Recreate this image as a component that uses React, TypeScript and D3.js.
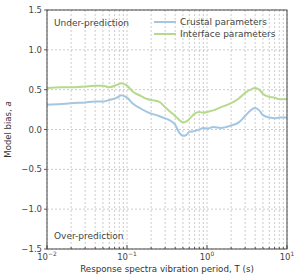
import { useEffect, useRef } from 'react';
import * as d3 from 'd3';

const periods = [0.01, 0.015, 0.02, 0.03, 0.04, 0.05, 0.06, 0.075, 0.085, 0.1, 0.12, 0.15, 0.17, 0.2, 0.25, 0.3, 0.35, 0.4, 0.45, 0.5, 0.55, 0.6, 0.7, 0.8, 0.9, 1.0, 1.2, 1.5, 2, 2.5, 3, 3.5, 4, 4.5, 5, 6, 7, 8, 10];
const crustal = [0.31, 0.32, 0.33, 0.34, 0.35, 0.35, 0.37, 0.40, 0.43, 0.40, 0.32, 0.26, 0.23, 0.20, 0.17, 0.14, 0.11, 0.06, -0.04, -0.08, -0.07, -0.03, -0.02, 0.0, 0.02, 0.01, 0.03, 0.02, 0.05, 0.09, 0.17, 0.24, 0.27, 0.24, 0.18, 0.15, 0.14, 0.15, 0.15];
const interfaceVals = [0.52, 0.53, 0.53, 0.54, 0.55, 0.55, 0.53, 0.56, 0.58, 0.55, 0.47, 0.42, 0.39, 0.37, 0.35, 0.28, 0.22, 0.17, 0.12, 0.09, 0.10, 0.13, 0.20, 0.22, 0.21, 0.22, 0.24, 0.28, 0.33, 0.39, 0.46, 0.50, 0.52, 0.50, 0.45, 0.41, 0.40, 0.38, 0.38];
const seriesNames = ['Crustal parameters', 'Interface parameters'];
const seriesColors = ['#a3c6e2', '#b6da8c'];
const yTicks = [-1.5, -1.0, -0.5, 0.0, 0.5, 1.0, 1.5];
const xExponents = [-2, -1, 0, 1];

export default function App() {
  const ref = useRef<SVGSVGElement>(null);

  useEffect(() => {
    if (!ref.current) return;
    const svg = d3.select(ref.current);
    svg.selectAll('*').remove();

    const left = 47, right = 287, top = 10, bottom = 249;
    const font = 'DejaVu Sans, sans-serif';
    const x = d3.scaleLog().domain([0.01, 10]).range([left, right]);
    const y = d3.scaleLinear().domain([-1.5, 1.5]).range([bottom, top]);

    // grid: minor + major verticals, horizontals at major y ticks
    const minor: number[] = [];
    for (let e = -2; e < 1; e++) for (let m = 2; m <= 9; m++) minor.push(m * Math.pow(10, e));
    const grid = svg.append('g').attr('stroke', '#b4b4b4').attr('stroke-width', 0.7).attr('stroke-dasharray', '2,2');
    [...minor, ...xExponents.map(e => Math.pow(10, e))].forEach(v => {
      grid.append('line').attr('x1', x(v)).attr('x2', x(v)).attr('y1', top).attr('y2', bottom);
    });
    yTicks.forEach(v => {
      grid.append('line').attr('x1', left).attr('x2', right).attr('y1', y(v)).attr('y2', y(v));
    });

    // lines
    const series = [crustal, interfaceVals];
    series.forEach((vals, i) => {
      const line = d3.line<number>().x((_, j) => x(periods[j])).y(d => y(d)).curve(d3.curveMonotoneX);
      svg.append('path').attr('d', line(vals)!).attr('fill', 'none')
        .attr('stroke', seriesColors[i]).attr('stroke-width', 2);
    });

    // frame
    svg.append('rect').attr('x', left).attr('y', top).attr('width', right - left).attr('height', bottom - top)
      .attr('fill', 'none').attr('stroke', '#333').attr('stroke-width', 0.9);

    // x ticks
    const tk = svg.append('g').attr('stroke', '#333').attr('stroke-width', 0.8);
    minor.forEach(v => tk.append('line').attr('x1', x(v)).attr('x2', x(v)).attr('y1', bottom).attr('y2', bottom - 2));
    xExponents.forEach(e => {
      const v = Math.pow(10, e);
      tk.append('line').attr('x1', x(v)).attr('x2', x(v)).attr('y1', bottom).attr('y2', bottom - 4);
      const t = svg.append('text').attr('x', x(v)).attr('y', bottom + 11).attr('text-anchor', 'middle')
        .attr('font-family', font).attr('font-size', 8.5).attr('fill', '#444');
      t.append('tspan').text('10');
      t.append('tspan').attr('dy', -4).attr('font-size', 6).text(e < 0 ? '\u2212' + Math.abs(e) : String(e));
    });
    yTicks.forEach(v => {
      tk.append('line').attr('x1', left).attr('x2', left - 3).attr('y1', y(v)).attr('y2', y(v));
      svg.append('text').attr('x', left - 5).attr('y', y(v) + 3).attr('text-anchor', 'end')
        .attr('font-family', font).attr('font-size', 8.5).attr('fill', '#444')
        .text(d3.format('.1f')(v).replace('-', '\u2212'));
    });

    // annotations
    svg.append('text').attr('x', 54).attr('y', 26).attr('font-family', font).attr('font-size', 9).attr('fill', '#444').text('Under-prediction');
    svg.append('text').attr('x', 54).attr('y', 239).attr('font-family', font).attr('font-size', 9).attr('fill', '#444').text('Over-prediction');

    // legend
    seriesNames.forEach((name, i) => {
      const ly = 22 + i * 12;
      svg.append('line').attr('x1', 154).attr('x2', 176).attr('y1', ly).attr('y2', ly)
        .attr('stroke', seriesColors[i]).attr('stroke-width', 2);
      svg.append('text').attr('x', 180).attr('y', ly + 3).attr('font-family', font).attr('font-size', 9)
        .attr('fill', '#444').text(name);
    });

    // axis labels
    svg.append('text').attr('x', (left + right) / 2).attr('y', 272).attr('text-anchor', 'middle')
      .attr('font-family', font).attr('font-size', 8.7).attr('fill', '#333')
      .text('Response spectra vibration period, T (s)');
    const yl = svg.append('text').attr('transform', `translate(11,${(top + bottom) / 2}) rotate(-90)`)
      .attr('text-anchor', 'middle').attr('font-family', font).attr('font-size', 8.5).attr('fill', '#333');
    yl.append('tspan').text('Model bias, ');
    yl.append('tspan').attr('font-style', 'italic').text('a');
  }, []);

  return <svg ref={ref} width={295} height={277} style={{ position: 'absolute', left: 0, top: 0, background: '#fff' }} />;
}
